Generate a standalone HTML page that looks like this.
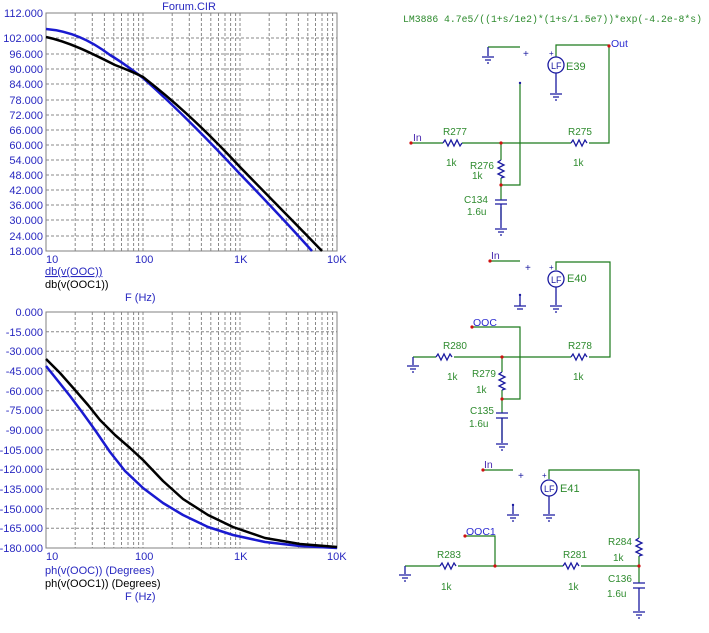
<!DOCTYPE html>
<html><head><meta charset="utf-8"><style>
html,body{margin:0;padding:0;background:#fff;}
svg{display:block;font-family:"Liberation Sans",sans-serif;}
.ax{fill:#2828c0;font-size:11px;}
.g{stroke:#888;stroke-width:1;stroke-dasharray:3,2;fill:none;}
.w{stroke:#1c7a1c;stroke-width:1.2;fill:none;}
.c{stroke:#1a1aa0;stroke-width:1.3;fill:none;}
.t{fill:#2e8b2e;font-size:10px;}
.n{fill:#d01010;}
</style></head><body>
<svg width="709" height="633" viewBox="0 0 709 633">
<text x="189" y="10" class="ax" text-anchor="middle" font-size="10">Forum.CIR</text>
<!-- Plot 1 grid -->
<g class="g">
<path d="M75.2 13V251M92.3 13V251M104.4 13V251M113.8 13V251M121.5 13V251M128 13V251M133.6 13V251M138.6 13V251M143 13V251M172.2 13V251M189.3 13V251M201.4 13V251M210.8 13V251M218.5 13V251M225 13V251M230.6 13V251M235.6 13V251M240 13V251M269.2 13V251M286.3 13V251M298.4 13V251M307.8 13V251M315.5 13V251M322 13V251M327.6 13V251M332.6 13V251"/>
<path d="M46 38H337M46 54H337M46 69H337M46 84H337M46 100H337M46 115H337M46 130H337M46 145H337M46 160H337M46 175H337M46 190H337M46 205H337M46 220H337M46 236H337"/>
</g>
<rect x="46" y="13" width="291" height="238" fill="none" stroke="#808080"/>
<g class="ax" text-anchor="end">
<text x="43" y="17">112.000</text><text x="43" y="42">102.000</text><text x="43" y="58">96.000</text><text x="43" y="73">90.000</text><text x="43" y="88">84.000</text><text x="43" y="104">78.000</text><text x="43" y="119">72.000</text><text x="43" y="134">66.000</text><text x="43" y="149">60.000</text><text x="43" y="164">54.000</text><text x="43" y="179">48.000</text><text x="43" y="194">42.000</text><text x="43" y="209">36.000</text><text x="43" y="224">30.000</text><text x="43" y="240">24.000</text><text x="43" y="255">18.000</text>
</g>
<g class="ax"><text x="46" y="263">10</text><text x="135" y="263">100</text><text x="234" y="263">1K</text><text x="327" y="263">10K</text></g>
<text x="45" y="275" class="ax" text-decoration="underline">db(v(OOC))</text>
<text x="45" y="288" font-size="11" fill="#000">db(v(OOC1))</text>
<text x="125" y="301" class="ax">F (Hz)</text>
<path d="M46 29 C70 31 90 40 110 55 C125 64 135 72 143 78 C170 102 200 131 240 174 C270 205 295 232 312 251" stroke="#1a1ad0" stroke-width="2.5" fill="none"/>
<path d="M46 37 C70 42 95 55 115 65 C128 70 137 74 143 77 C170 98 200 124 240 167 C275 203 300 228 322 251" stroke="#000" stroke-width="2.5" fill="none"/>

<!-- Plot 2 grid -->
<g class="g">
<path d="M75.2 312V548M92.3 312V548M104.4 312V548M113.8 312V548M121.5 312V548M128 312V548M133.6 312V548M138.6 312V548M143 312V548M172.2 312V548M189.3 312V548M201.4 312V548M210.8 312V548M218.5 312V548M225 312V548M230.6 312V548M235.6 312V548M240 312V548M269.2 312V548M286.3 312V548M298.4 312V548M307.8 312V548M315.5 312V548M322 312V548M327.6 312V548M332.6 312V548"/>
<path d="M46 331.7H337M46 351.3H337M46 371H337M46 390.7H337M46 410.3H337M46 430H337M46 449.7H337M46 469.3H337M46 489H337M46 508.7H337M46 528.3H337"/>
</g>
<rect x="46" y="312" width="291" height="236" fill="none" stroke="#808080"/>
<g class="ax" text-anchor="end">
<text x="43" y="316">0.000</text><text x="43" y="336">-15.000</text><text x="43" y="355">-30.000</text><text x="43" y="375">-45.000</text><text x="43" y="395">-60.000</text><text x="43" y="414">-75.000</text><text x="43" y="434">-90.000</text><text x="43" y="454">-105.000</text><text x="43" y="473">-120.000</text><text x="43" y="493">-135.000</text><text x="43" y="513">-150.000</text><text x="43" y="532">-165.000</text><text x="43" y="552">-180.000</text>
</g>
<g class="ax"><text x="46" y="560">10</text><text x="135" y="560">100</text><text x="234" y="560">1K</text><text x="327" y="560">10K</text></g>
<text x="45" y="574" class="ax">ph(v(OOC)) (Degrees)</text>
<text x="45" y="587" font-size="11" fill="#000">ph(v(OOC1)) (Degrees)</text>
<text x="125" y="600" class="ax">F (Hz)</text>
<polyline points="46,366 58,381 70,396 82,412 95,430 110,452 125,471 143,488 163,503 183,515 208,527 233,535 265,542 300,546 337,548" stroke="#1a1ad0" stroke-width="2.5" fill="none" stroke-linejoin="round"/>
<polyline points="46,359 60,373 75,390 88,405 100,420 115,435 130,448 143,460 163,481 183,499 208,515 233,527 265,538 300,544 337,547" stroke="#000" stroke-width="2.5" fill="none" stroke-linejoin="round"/>

<!-- Schematic -->
<text x="403" y="22" fill="#2e8b2e" font-family="Liberation Mono,monospace" font-size="10" textLength="299" lengthAdjust="spacingAndGlyphs">LM3886 4.7e5/((1+s/1e2)*(1+s/1.5e7))*exp(-4.2e-8*s)</text>

<!-- Circuit 1 -->
<path class="w" d="M488 47H520M520 83V185H501M556 57V45H609V143H592M411 143H443M462 143H571M589 143H609M501 143V160M501 178V185M501 185V200M501 207V220"/>
<path class="c" d="M488 47V56M482 57H494M485 60H491M487 63H489"/>
<text x="523" y="57" fill="#1a1aa0" font-size="10">+</text>
<circle cx="520" cy="83" r="1.2" fill="#1a1aa0"/>
<circle cx="556" cy="65" r="8" class="c"/><text x="551" y="69" fill="#1a1aa0" font-size="9">LF</text>
<path class="c" d="M556 73V93M550 94H562M553 97H559M555 100H557M443 143l2 -3 3 6 3 -6 3 6 3 -6 3 6 2-3M571 143l2 -3 3 6 3 -6 3 6 3 -6 2 3M501 160l-3 2 6 3 -6 3 6 3 -6 3 6 3 -3 1M495 200H507M495 204H507M501 204V228M495 229H507M498 232H504M500 235H502"/>
<text x="549" y="56" fill="#1a1aa0" font-size="8">+</text>
<circle cx="411" cy="143" r="1.6" class="n"/><circle cx="501" cy="143" r="1.6" class="n"/><circle cx="501" cy="185" r="1.6" class="n"/><circle cx="609" cy="46" r="1.6" class="n"/>
<text x="413" y="141" fill="#4a2ab0" font-size="10.5">In</text>
<text x="611" y="47" fill="#2a2ad0" font-size="10.5">Out</text>
<text x="566" y="70" fill="#2e8b2e" font-size="11">E39</text>
<g class="t"><text x="443" y="135">R277</text><text x="446" y="166">1k</text><text x="470" y="169">R276</text><text x="472" y="179">1k</text><text x="464" y="203">C134</text><text x="467" y="215">1.6u</text><text x="568" y="135">R275</text><text x="573" y="166">1k</text></g>

<!-- Circuit 2 -->
<path class="w" d="M490 261H520M556 270V262H610V357H590M472 327H520V399H502M413 357H436M454 357H571M589 357H610M502 357V372M502 390V399M502 399V413M502 418V440"/>
<circle cx="520" cy="295" r="1.2" fill="#1a1aa0"/>
<text x="525" y="271" fill="#1a1aa0" font-size="10">+</text>
<circle cx="556" cy="279" r="8" class="c"/><text x="551" y="283" fill="#1a1aa0" font-size="9">LF</text>
<path class="c" d="M520 296V306M514 306H526M517 309H523M556 287V305M550 306H562M553 309H559M555 312H557M413 357V365M407 366H419M410 369H416M412 372H414M436 357l2 -3 3 6 3 -6 3 6 3 -6 2 3M571 357l2 -3 3 6 3 -6 3 6 3 -6 2 3M502 372l-3 2 6 3 -6 3 6 3 -6 3 6 3 -3 1M496 413H508M496 418H508M502 418V443M496 444H508M499 447H505M501 450H503"/>
<text x="549" y="270" fill="#1a1aa0" font-size="8">+</text>
<circle cx="490" cy="261" r="1.6" class="n"/><circle cx="472" cy="327" r="1.6" class="n"/><circle cx="502" cy="357" r="1.6" class="n"/><circle cx="502" cy="399" r="1.6" class="n"/>
<text x="491" y="259" fill="#4a2ab0" font-size="10.5">In</text>
<text x="473" y="326" fill="#2a2ad0" font-size="10.5">OOC</text>
<text x="567" y="282" fill="#2e8b2e" font-size="11">E40</text>
<g class="t"><text x="443" y="349">R280</text><text x="447" y="380">1k</text><text x="472" y="377">R279</text><text x="476" y="393">1k</text><text x="470" y="414">C135</text><text x="469" y="427">1.6u</text><text x="568" y="349">R278</text><text x="573" y="380">1k</text></g>

<!-- Circuit 3 -->
<path class="w" d="M483 470H513M549 479V470H639V538M639 556V566M465 536H495V566M405 566H440M458 566H563M581 566H639M639 566V583"/>
<circle cx="513" cy="505" r="1.2" fill="#1a1aa0"/>
<text x="518" y="479" fill="#1a1aa0" font-size="10">+</text>
<circle cx="549" cy="488" r="8" class="c"/><text x="544" y="492" fill="#1a1aa0" font-size="9">LF</text>
<path class="c" d="M513 506V514M507 515H519M510 518H516M512 521H514M549 496V514M543 515H555M546 518H552M548 521H550M405 566V574M399 575H411M402 578H408M404 581H406M440 566l2 -3 3 6 3 -6 3 6 3 -6 2 3M563 566l2 -3 3 6 3 -6 3 6 3 -6 2 3M639 538l-3 2 6 3 -6 3 6 3 -6 3 6 3 -3 1M633 583H645M633 588H645M639 588V611M633 612H645M636 615H642M638 618H640"/>
<text x="542" y="478" fill="#1a1aa0" font-size="8">+</text>
<circle cx="483" cy="470" r="1.6" class="n"/><circle cx="465" cy="536" r="1.6" class="n"/><circle cx="495" cy="566" r="1.6" class="n"/><circle cx="639" cy="566" r="1.6" class="n"/>
<text x="484" y="468" fill="#4a2ab0" font-size="10.5">In</text>
<text x="466" y="535" fill="#2a2ad0" font-size="10.5">OOC1</text>
<text x="560" y="492" fill="#2e8b2e" font-size="11">E41</text>
<g class="t"><text x="437" y="558">R283</text><text x="441" y="590">1k</text><text x="563" y="558">R281</text><text x="568" y="590">1k</text><text x="608" y="545">R284</text><text x="613" y="561">1k</text><text x="608" y="582">C136</text><text x="607" y="597">1.6u</text></g>
</svg>
</body></html>
